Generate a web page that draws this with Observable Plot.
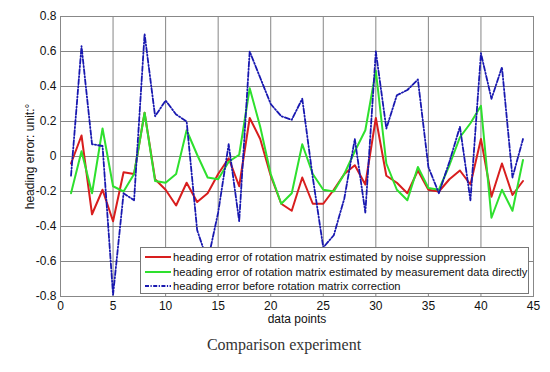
<!DOCTYPE html>
<html>
<head>
<meta charset="utf-8">
<script src="https://cdn.jsdelivr.net/npm/d3@7"></script>
<script src="https://cdn.jsdelivr.net/npm/@observablehq/plot@0.6"></script>
<style>
  body { margin: 0; background: #fff; font-family: "Liberation Sans", Arial, sans-serif; }
  #wrap { position: relative; width: 550px; }
  #legend { position: absolute; left: 140px; top: 247px; width: 389px; height: 47px; background: #fff; border: 1px solid #777; box-sizing: border-box; }
  .row { position: absolute; left: 4px; height: 14px; display: flex; align-items: center; font-size: 11.2px; color: #111; white-space: nowrap; }
  .row svg { margin-right: 2px; }
  #caption { font-family: "Liberation Serif", "Times New Roman", serif; font-size: 16px; color: #333; text-align: center; padding-left: 18px; width: 532px; margin-top: 6px; }
</style>
</head>
<body>
<div id="wrap"></div>
<div id="caption">Comparison experiment</div>
<script>
const points = d3.range(1, 45);
const noiseSuppressed = [-0.04, 0.12, -0.33, -0.19, -0.37, -0.09, -0.10, 0.25, -0.13, -0.19, -0.28, -0.15, -0.26, -0.21, -0.10, -0.01, -0.17, 0.22, 0.10, -0.11, -0.27, -0.31, -0.12, -0.27, -0.27, -0.19, -0.10, -0.05, -0.16, 0.22, -0.11, -0.15, -0.21, -0.08, -0.19, -0.20, -0.13, -0.08, -0.16, 0.10, -0.23, -0.04, -0.22, -0.14];
const measurementDirect = [-0.21, 0.03, -0.21, 0.16, -0.17, -0.20, -0.10, 0.25, -0.14, -0.15, -0.10, 0.15, 0.01, -0.12, -0.13, -0.03, 0.01, 0.39, 0.17, -0.10, -0.27, -0.21, 0.07, -0.10, -0.19, -0.20, -0.10, 0.03, 0.15, 0.49, -0.04, -0.19, -0.25, -0.06, -0.18, -0.19, -0.05, 0.11, 0.19, 0.29, -0.35, -0.19, -0.31, -0.02];
const beforeCorrection = [-0.11, 0.63, 0.07, 0.06, -0.79, -0.21, -0.25, 0.70, 0.23, 0.32, 0.24, 0.20, -0.42, -0.60, -0.32, 0.07, -0.37, 0.60, 0.45, 0.30, 0.23, 0.21, 0.33, -0.12, -0.52, -0.45, -0.24, 0.10, -0.32, 0.60, 0.16, 0.35, 0.38, 0.44, -0.06, -0.21, -0.03, 0.17, -0.25, 0.59, 0.33, 0.51, -0.12, 0.10];
const seriesNames = [
  "heading error of rotation matrix estimated by noise suppression",
  "heading error of rotation matrix estimated by measurement data directly",
  "heading error before rotation matrix correction"
];
const seriesColors = ["#d81e1e", "#2ee02e", "#1818b0"];
const xTicks = [0, 5, 10, 15, 20, 25, 30, 35, 40, 45];
const yTicks = [-0.8, -0.6, -0.4, -0.2, 0, 0.2, 0.4, 0.6, 0.8];
const xLabel = "data points";
const yLabel = "heading error: unit:°";

const mk = (vals) => points.map((p, i) => ({x: p, y: vals[i]}));
const dataR = mk(noiseSuppressed), dataG = mk(measurementDirect), dataB = mk(beforeCorrection);

const chart = Plot.plot({
  width: 550,
  height: 330,
  marginTop: 16,
  marginBottom: 34,
  marginLeft: 60,
  marginRight: 17,
  style: {fontFamily: "'Liberation Sans', Arial, sans-serif", fontSize: "11px", color: "#111"},
  x: {domain: [0, 45]},
  y: {domain: [-0.8, 0.8]},
  marks: [
    Plot.gridX(xTicks, {stroke: "#666", strokeOpacity: 0.8}),
    Plot.gridY(yTicks, {stroke: "#666", strokeOpacity: 0.8}),
    Plot.frame({stroke: "#888"}),
    Plot.axisX(xTicks, {tickSize: 0, tickPadding: 5, label: xLabel, labelAnchor: "center", labelArrow: "none", labelOffset: 26, fontSize: 12, tickFormat: d => String(d)}),
    Plot.axisY(yTicks, {tickSize: 0, tickPadding: 4, label: yLabel, labelAnchor: "center", labelArrow: "none", labelOffset: 35, fontSize: 12, tickFormat: d => d === 0 ? "0" : d.toFixed(1)}),
    Plot.line(dataR, {x: "x", y: "y", stroke: seriesColors[0], strokeWidth: 2}),
    Plot.line(dataG, {x: "x", y: "y", stroke: seriesColors[1], strokeWidth: 2}),
    Plot.line(dataB, {x: "x", y: "y", stroke: seriesColors[2], strokeWidth: 1.8, strokeDasharray: "5,2,1.2,2"})
  ]
});
const wrap = document.getElementById("wrap");
wrap.appendChild(chart);

const legend = document.createElement("div");
legend.id = "legend";
const tops = [2, 16.5, 31];
seriesNames.forEach((name, i) => {
  const row = document.createElement("div");
  row.className = "row";
  row.style.top = tops[i] + "px";
  const dash = i === 2 ? ' stroke-dasharray="4,1.5,1.2,1.5"' : '';
  row.innerHTML = `<svg width="26" height="6"><line x1="0" y1="3" x2="26" y2="3" stroke="${seriesColors[i]}" stroke-width="2"${dash}/></svg><span>${name}</span>`;
  legend.appendChild(row);
});
wrap.appendChild(legend);
</script>
</body>
</html>
